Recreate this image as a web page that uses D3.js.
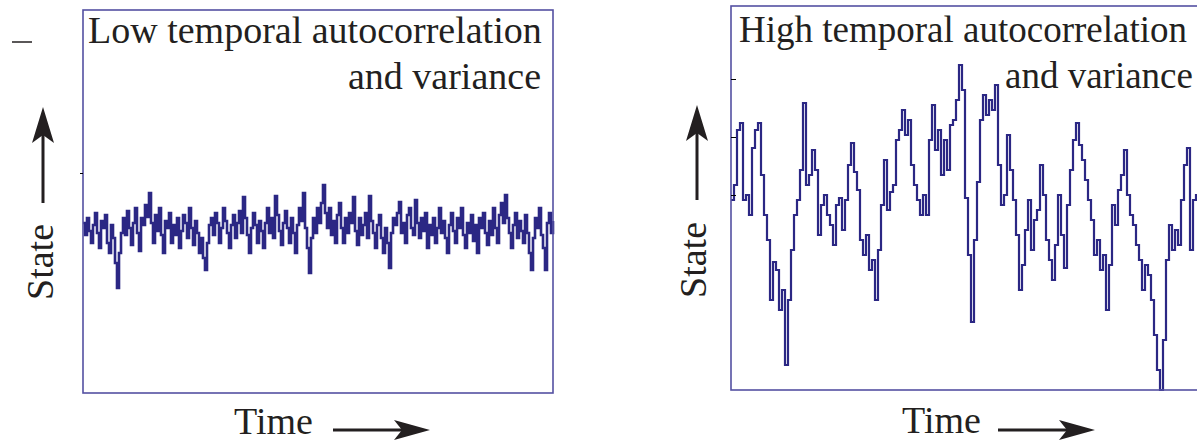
<!DOCTYPE html>
<html>
<head>
<meta charset="utf-8">
<script src="https://cdn.jsdelivr.net/npm/d3@7"></script>
<style>
    body { margin: 0; background: #fff; }
    text { font-family: "Liberation Serif", "Times New Roman", serif; fill: #231f20; }
</style>
</head>
<body>
<script>

// state, one value per time step
var lowState = [
    170, 158, 175, 162, 150, 168, 180, 160, 145, 172,
    165, 178, 150, 140, 168, 155, 130, 105, 140, 160,
    175, 158, 182, 165, 148, 170, 185, 160, 142, 175,
    168, 188, 176, 200, 170, 150, 178, 162, 185, 158,
    140, 172, 165, 180, 150, 168, 158, 175, 145, 162,
    178, 170, 155, 185, 165, 148, 172, 160, 140, 155,
    135, 123, 150, 168, 175, 158, 180, 170, 150, 165,
    185, 172, 160, 145, 168, 178, 155, 170, 182, 160,
    196, 175, 158, 140, 165, 180, 168, 150, 172, 162,
    145, 170, 185, 160, 175, 155, 197, 178, 162, 148,
    170, 182, 165, 150, 175, 160, 140, 168, 185, 172,
    200, 165, 145, 120, 155, 175, 160, 185, 170, 190,
    208, 180, 165, 185, 158, 172, 150, 178, 190, 165,
    150, 175, 160, 180, 170, 196, 162, 148, 175, 158,
    168, 180, 155, 197, 172, 160, 145, 168, 178, 155,
    140, 165, 150, 125, 160, 175, 168, 180, 191, 160,
    170, 150, 178, 185, 165, 158, 193, 170, 155, 175,
    162, 180, 145, 168, 158, 175, 150, 165, 185, 160,
    172, 155, 140, 168, 180, 162, 150, 175, 165, 185,
    158, 145, 170, 160, 178, 152, 168, 140, 175, 165,
    180, 160, 148, 172, 158, 185, 165, 150, 178, 190,
    170, 198, 175, 160, 145, 168, 180, 155, 172, 162,
    150, 178, 160, 140, 123, 155, 175, 165, 185, 158,
    145, 123, 170, 180, 160, 172
];

var highState = [
    190, 205, 260, 267, 190, 195, 175, 242, 260, 267,
    215, 175, 150, 90, 128, 120, 80, 100, 25, 90,
    140, 175, 190, 220, 287, 205, 215, 240, 220, 155,
    185, 195, 175, 165, 145, 185, 192, 160, 190, 225,
    247, 218, 200, 150, 135, 155, 120, 130, 90, 140,
    185, 230, 180, 198, 205, 250, 260, 280, 255, 270,
    225, 205, 190, 175, 195, 175, 250, 285, 240, 260,
    215, 250, 220, 265, 270, 290, 325, 300, 192, 135,
    68, 150, 208, 270, 295, 275, 290, 280, 305, 225,
    185, 195, 255, 220, 190, 155, 100, 125, 160, 190,
    140, 170, 180, 225, 195, 150, 130, 110, 145, 195,
    155, 122, 185, 220, 250, 267, 245, 230, 210, 190,
    170, 135, 150, 120, 135, 80, 125, 185, 165, 200,
    215, 240, 195, 175, 165, 145, 130, 100, 125, 115,
    90, 55, 20, 0, 50, 130, 165, 140, 160, 145,
    190, 225, 242, 140, 190, 195, 180
];

var lowTitle = ["Low temporal autocorrelation", "and variance"];
var highTitle = ["High temporal autocorrelation", "and variance"];

var lineColor = "#2b2784";
var boxColor = "#5450a2";

var svg = d3.select("body")
    .append("svg")
    .attr("width", 1197)
    .attr("height", 442);

function arrowUp(x, yTip, yEnd) {
    svg.append("line")
        .attr("x1", x).attr("x2", x)
        .attr("y1", yTip + 20).attr("y2", yEnd)
        .attr("stroke", "#231f20")
        .attr("stroke-width", 3);
    svg.append("path")
        .attr("d", "M" + x + "," + yTip + " L" + (x + 11) + "," + (yTip + 36) +
            " L" + x + "," + (yTip + 28) + " L" + (x - 11) + "," + (yTip + 36) + "Z")
        .attr("fill", "#231f20");
}

function arrowRight(xStart, xTip, y) {
    svg.append("line")
        .attr("x1", xStart).attr("x2", xTip - 20)
        .attr("y1", y).attr("y2", y)
        .attr("stroke", "#231f20")
        .attr("stroke-width", 3);
    svg.append("path")
        .attr("d", "M" + xTip + "," + y + " L" + (xTip - 36) + "," + (y - 10) +
            " L" + (xTip - 28) + "," + y + " L" + (xTip - 36) + "," + (y + 10) + "Z")
        .attr("fill", "#231f20");
}

function panel(values, left, top, bottom, step, width) {
    var xscale = d3.scaleLinear()
        .domain([0, values.length - 1])
        .range([left, left + step * (values.length - 1)]);

    var yscale = d3.scaleLinear()
        .domain([0, bottom - top])
        .range([bottom, top]);

    var line = d3.line()
        .x(function (d, i) { return xscale(i); })
        .y(function (d) { return yscale(d); })
        .curve(d3.curveStepAfter);

    svg.append("path")
        .datum(values)
        .attr("d", line)
        .attr("fill", "none")
        .attr("stroke", lineColor)
        .attr("stroke-width", width);

    svg.append("rect")
        .attr("x", left)
        .attr("y", top)
        .attr("width", 470)
        .attr("height", bottom - top)
        .attr("fill", "none")
        .attr("stroke", boxColor)
        .attr("stroke-width", 1.6);

    return yscale;
}

// left panel
var y1 = panel(lowState, 83, 10, 393, 2, 2.6);

svg.append("g")
    .attr("transform", "translate(83,0)")
    .call(d3.axisLeft(y1).tickValues([220]).tickSize(3).tickFormat(""))
    .call(function (g) { g.select(".domain").remove(); });

svg.append("line")
    .attr("x1", 12).attr("x2", 32)
    .attr("y1", 42).attr("y2", 42)
    .attr("stroke", "#231f20")
    .attr("stroke-width", 1.5);

svg.append("text")
    .attr("x", 88).attr("y", 43)
    .style("font-size", "38px")
    .text(lowTitle[0]);

svg.append("text")
    .attr("x", 541).attr("y", 89)
    .style("font-size", "38px")
    .style("text-anchor", "end")
    .text(lowTitle[1]);

svg.append("text")
    .attr("transform", "translate(53,262) rotate(-90)")
    .style("font-size", "38px")
    .style("text-anchor", "middle")
    .text("State");

svg.append("text")
    .attr("x", 234).attr("y", 434)
    .style("font-size", "38px")
    .text("Time");

arrowUp(43, 107, 203);
arrowRight(333, 430, 430);

// right panel, its right edge runs off the page
var y2 = panel(highState, 731, 6, 390, 3, 2.2);

svg.append("g")
    .attr("transform", "translate(731,0)")
    .call(d3.axisRight(y2).tickValues([195, 253, 311]).tickSize(5).tickFormat(""))
    .call(function (g) { g.select(".domain").remove(); });

svg.append("text")
    .attr("x", 739).attr("y", 42)
    .style("font-size", "37px")
    .text(highTitle[0]);

svg.append("text")
    .attr("x", 1005).attr("y", 88)
    .style("font-size", "37px")
    .text(highTitle[1]);

svg.append("text")
    .attr("transform", "translate(706,260) rotate(-90)")
    .style("font-size", "38px")
    .style("text-anchor", "middle")
    .text("State");

svg.append("text")
    .attr("x", 902).attr("y", 433)
    .style("font-size", "38px")
    .text("Time");

arrowUp(697, 105, 200);
arrowRight(998, 1095, 430);

</script>
</body>
</html>
